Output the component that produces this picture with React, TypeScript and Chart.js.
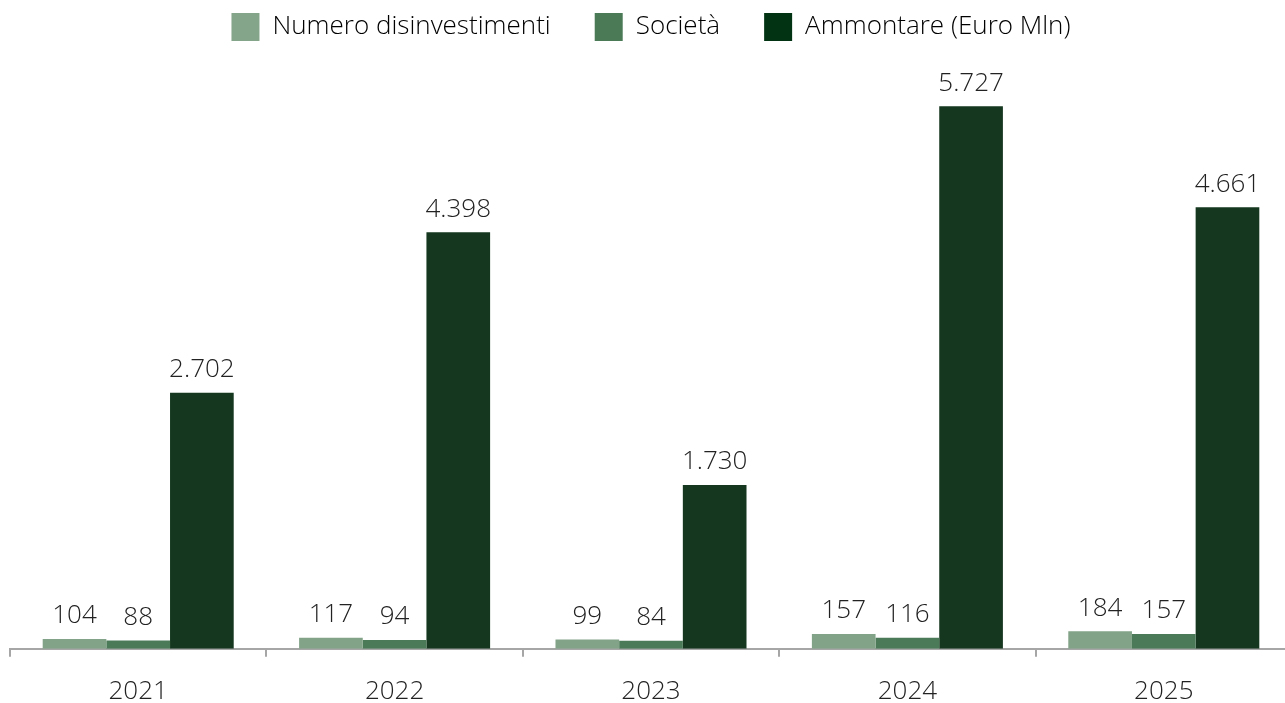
import React, { useEffect, useRef } from "react";
import { Chart, registerables } from "chart.js";

Chart.register(...registerables);

const years = ["2021", "2022", "2023", "2024", "2025"];
const numeroDisinvestimenti = [104, 117, 99, 157, 184];
const societa = [88, 94, 84, 116, 157];
const ammontare = [2702, 4398, 1730, 5727, 4661];
const seriesNames = ["Numero disinvestimenti", "Società", "Ammontare (Euro Mln)"];
const barColors = ["#82a388", "#4a7a58", "#15371f"];
const legendColors = ["#84a58a", "#4a7a56", "#023414"];

const FONT = "'Open Sans', Lato, sans-serif";

const valueLabels = {
  id: "valueLabels",
  afterDatasetsDraw(chart: any) {
    const ctx = chart.ctx;
    ctx.save();
    ctx.font = `300 26px ${FONT}`;
    ctx.fillStyle = "#222222";
    ctx.textAlign = "center";
    ctx.textBaseline = "bottom";
    chart.data.datasets.forEach((ds: any, i: number) => {
      const meta = chart.getDatasetMeta(i);
      meta.data.forEach((bar: any, j: number) => {
        const v = ds.data[j] as number;
        const txt = v.toLocaleString("it-IT", { useGrouping: "always" } as any);
        ctx.fillText(txt, bar.x, bar.y - 10);
      });
    });
    ctx.restore();
  },
};

export default function App() {
  const ref = useRef<HTMLCanvasElement>(null);
  useEffect(() => {
    document.body.style.margin = "0";
    document.body.style.overflow = "hidden";
    const chart = new Chart(ref.current!, {
      type: "bar",
      data: {
        labels: years,
        datasets: [numeroDisinvestimenti, societa, ammontare].map((d, i) => ({
          label: seriesNames[i],
          data: d,
          backgroundColor: barColors[i],
          borderWidth: 0,
          categoryPercentage: 0.745,
          barPercentage: 1,
        })),
      },
      options: {
        animation: false,
        responsive: true,
        maintainAspectRatio: false,
        layout: { padding: { left: 10, right: 0, top: -31, bottom: -23 } },
        plugins: {
          tooltip: { enabled: false },
          legend: {
            position: "top",
            labels: {
              boxWidth: 28,
              boxHeight: 28,
              padding: 44,
              color: "#222222",
              font: { family: FONT, size: 26, weight: "300" as any },
              generateLabels: (chart: any) =>
                chart.data.datasets.map((ds: any, i: number) => ({
                  text: ds.label,
                  fillStyle: legendColors[i],
                  strokeStyle: legendColors[i],
                  lineWidth: 0,
                  hidden: false,
                  datasetIndex: i,
                })),
            },
          },
        },
        scales: {
          x: {
            grid: {
              display: true,
              drawOnChartArea: false,
              offset: true,
              color: "#a6a6a6",
              lineWidth: 2,
              tickLength: 8,
            },
            border: { display: true, color: "#a6a6a6", width: 2 },
            ticks: {
              color: "#222222",
              font: { family: FONT, size: 26, weight: "300" as any },
              padding: 19,
            },
          },
          y: {
            display: false,
            min: 0,
            max: 6310,
          },
        },
      },
      plugins: [valueLabels],
    });
    return () => chart.destroy();
  }, []);
  return (
    <div style={{ position: "absolute", left: 0, top: 0, width: 1292, height: 703 }}>
      <canvas ref={ref} />
    </div>
  );
}
